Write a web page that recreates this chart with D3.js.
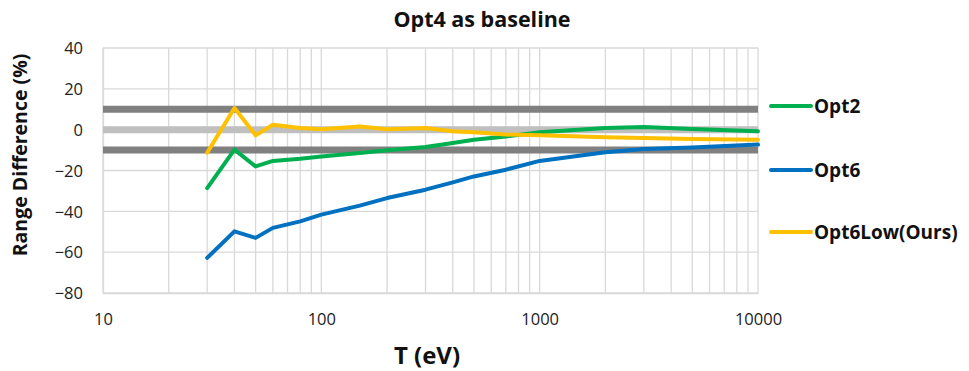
<!DOCTYPE html>
<html><head><meta charset="utf-8">
<script src="https://cdn.jsdelivr.net/npm/d3@7"></script>
<style>body{margin:0;background:#fff;} text{font-family:"Open Sans","Noto Sans",sans-serif;}</style>
</head><body><svg id="c" width="969" height="371"></svg>
<script>
const energies = [30,40,50,60,80,100,150,200,300,400,500,700,1000,2000,3000,5000,10000];
const opt2 = [-28.6,-9.8,-18,-15.3,-14.2,-13.1,-11.4,-10.1,-8.5,-6.5,-4.9,-3.3,-1.3,0.8,1.3,0.3,-0.8];
const opt6 = [-62.8,-49.8,-53,-48.1,-44.9,-41.6,-37.2,-33.5,-29.4,-25.8,-22.9,-19.6,-15.3,-11.1,-9.5,-8.7,-7.3];
const opt6low = [-11.3,10.6,-2.8,2.4,0.8,0.2,1.6,0.2,0.8,-0.8,-1.3,-2.4,-2.7,-3.7,-4.1,-4.6,-4.9];
const refX = [10, 10000];
const refLevels = [10, 0, -10];
const yTicks = [40,20,0,-20,-40,-60,-80];
const xTickLabels = [10,100,1000,10000];
const seriesNames = ["Opt2","Opt6","Opt6Low(Ours)"];
const seriesColors = ["#00b050","#0070c0","#ffc000"];
const seriesValues = [opt2, opt6, opt6low];

const svg = d3.select("#c");
const L=103,R=758,T=48,B=293;
const x = d3.scaleLog().domain([10,10000]).range([L,R]);
const y = d3.scaleLinear().domain([-80,40]).range([B,T]);

// grid
const g = svg.append("g");
g.selectAll("line.vx").data(x.ticks()).enter().append("line")
 .attr("x1",d=>x(d)).attr("x2",d=>x(d)).attr("y1",T).attr("y2",B)
 .attr("stroke","#d9d9d9").attr("stroke-width",1.3);
g.selectAll("line.hy").data(yTicks).enter().append("line")
 .attr("x1",L).attr("x2",R).attr("y1",d=>y(d)).attr("y2",d=>y(d))
 .attr("stroke","#d9d9d9").attr("stroke-width",1.3);

// axes
const ya = d3.axisLeft(y).tickValues(yTicks).tickSize(0).tickPadding(20);
const yg = svg.append("g").attr("transform",`translate(${L},0)`).call(ya);
yg.select(".domain").attr("stroke","#d9d9d9").attr("stroke-width",1.3);
yg.selectAll("text").attr("font-size",16.5).attr("fill","#222").attr("dy","0.35em").attr("font-family","'Open Sans',sans-serif");
const xa = d3.axisBottom(x).tickValues(xTickLabels).tickFormat(d3.format("d")).tickSize(0).tickPadding(20);
const xg = svg.append("g").attr("transform",`translate(0,${B})`).call(xa);
xg.select(".domain").attr("stroke","#d9d9d9").attr("stroke-width",1.3);
xg.selectAll("text").attr("font-size",16.5).attr("fill","#222").attr("font-family","'Open Sans',sans-serif");

// reference lines
const refColors = ["#808080","#bfbfbf","#808080"];
const line = d3.line().x(d=>x(d[0])).y(d=>y(d[1]));
refLevels.forEach((lv,i)=>{
  svg.append("path").attr("d",line(refX.map(v=>[v,lv]))).attr("fill","none")
   .attr("stroke",refColors[i]).attr("stroke-width",7);
});

// series
seriesValues.forEach((vals,i)=>{
  svg.append("path").attr("d",line(energies.map((e,j)=>[e,vals[j]])))
   .attr("fill","none").attr("stroke",seriesColors[i]).attr("stroke-width",4)
   .attr("stroke-linejoin","round").attr("stroke-linecap","round");
});

// legend
const legY = [106,170,232];
seriesNames.forEach((n,i)=>{
  svg.append("line").attr("x1",771).attr("x2",811).attr("y1",legY[i]).attr("y2",legY[i])
   .attr("stroke",seriesColors[i]).attr("stroke-width",4).attr("stroke-linecap","round");
  svg.append("text").attr("x",814).attr("y",legY[i]+7)
   .attr("font-size",19).attr("font-weight","bold").attr("fill","#111").text(n);
});

// titles
svg.append("text").attr("x",482).attr("y",27).attr("text-anchor","middle")
 .attr("font-size",21.5).attr("font-weight","bold").attr("fill","#111").text("Opt4 as baseline");
svg.append("text").attr("x",427).attr("y",364).attr("text-anchor","middle")
 .attr("font-size",24).attr("font-weight","bold").attr("fill","#111").text("T (eV)");
svg.append("text").attr("transform","translate(27,155) rotate(-90)").attr("text-anchor","middle")
 .attr("font-size",19.5).attr("font-weight","bold").attr("fill","#111").text("Range Difference (%)");
</script></body></html>
